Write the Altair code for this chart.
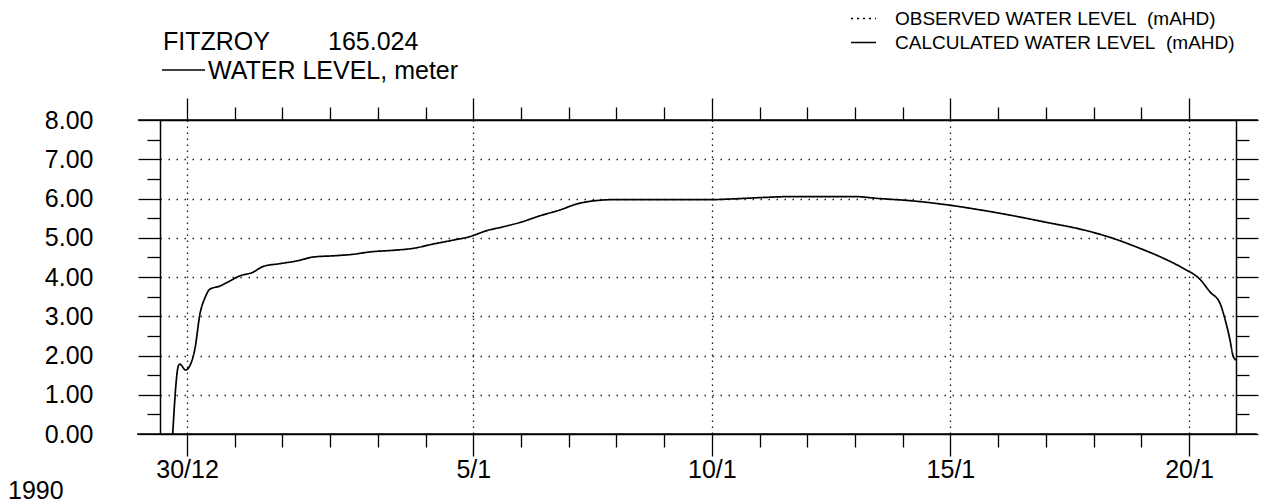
import altair as alt
import pandas as pd

# ---- data (days after 30/12/1989 00:00, water level in m) ----
day = [-0.30, -0.18, -0.15, -0.03, 0.06, 0.17, 0.27, 0.38, 0.48, 0.69, 0.90,
       1.11, 1.36, 1.60, 1.95, 2.30, 2.65, 3.07, 3.49, 3.84, 4.32, 4.74,
       5.16, 5.58, 5.93, 6.28, 6.63, 6.98, 7.40, 7.82, 8.17, 8.52, 8.94,
       10.00, 10.93, 11.45, 12.15, 12.71, 13.55, 13.97, 14.50, 15.20, 15.92,
       16.62, 17.32, 18.02, 18.72, 19.42, 19.97, 20.46, 20.88, 21.23, 21.44,
       21.65, 21.76, 21.86, 21.92, 21.985]
level = [0.00, 1.74, 1.78, 1.63, 1.74, 2.20, 3.05, 3.48, 3.69, 3.77, 3.90,
         4.03, 4.11, 4.27, 4.34, 4.41, 4.51, 4.54, 4.58, 4.64, 4.68, 4.73,
         4.84, 4.94, 5.03, 5.18, 5.28, 5.39, 5.56, 5.71, 5.86, 5.94, 5.97,
         5.97, 5.97, 5.99, 6.03, 6.05, 6.05, 6.05, 6.00, 5.94, 5.84,
         5.71, 5.56, 5.39, 5.22, 4.98, 4.73, 4.48, 4.22, 3.94, 3.62,
         3.33, 2.90, 2.39, 2.01, 1.88]

x_tick_days = list(range(0, 22))
x_label_days = [0, 6, 11, 16, 21]
x_label_text = ["30/12", "5/1", "10/1", "15/1", "20/1"]
y_tick_values = [i * 0.5 for i in range(17)]
series_names = ["OBSERVED WATER LEVEL\u00a0 (mAHD)", "CALCULATED WATER LEVEL\u00a0 (mAHD)"]
station = "FITZROY"
station_code = "165.024"
variable = "WATER LEVEL, meter"
year_label = "1990"

df = pd.DataFrame({"day": day, "level": level})
df["series"] = series_names[1]

W, H = 1076, 314
FONT = "Liberation Sans"
x_domain = [-0.566, 21.985]

label_map = "{" + ",".join(f"'{d}':'{t}'" for d, t in zip(x_label_days, x_label_text)) + "}"
major_test = "indexof(" + str(x_label_days) + ", datum.value) >= 0"

x_scale = alt.Scale(domain=x_domain, nice=False, zero=False)
y_scale = alt.Scale(domain=[0, 8], nice=False)

tick_x = {"condition": {"test": major_test, "value": 22}, "value": 13}
tick_y = {"condition": {"test": "datum.value % 1 === 0", "value": 22}, "value": 13}

axis_common = dict(domainColor="black", domainWidth=1.5, tickColor="black",
                   tickWidth=1.3, labelFont=FONT, labelColor="black", title=None)

x_bottom = alt.Axis(orient="bottom", values=x_tick_days, tickSize=tick_x,
                    labelExpr=f"{label_map}[datum.value] || ''", labelFontSize=25,
                    labelPadding=1, labelBaseline="top", labelFlush=False,
                    labelOverlap=False, grid=True, gridColor="black", gridWidth=1.3,
                    gridDash=[1.5, 4.5],
                    gridOpacity={"condition": {"test": major_test, "value": 0.9}, "value": 0},
                    **axis_common)
y_left = alt.Axis(orient="left", values=y_tick_values, tickSize=tick_y,
                  labelExpr="datum.value % 1 === 0 ? format(datum.value, '.2f') : ''",
                  labelFontSize=25, labelPadding=45, labelOverlap=False,
                  grid=True, gridColor="black", gridWidth=1.3, gridDash=[1.5, 6.5],
                  gridOpacity={"condition": {"test": "datum.value % 1 === 0 && datum.value > 0 && datum.value < 8",
                                             "value": 0.85}, "value": 0},
                  **axis_common)
x_top = alt.Axis(orient="top", values=x_tick_days, tickSize=tick_x, labels=False,
                 grid=False, **axis_common)
y_right = alt.Axis(orient="right", values=y_tick_values, tickSize=tick_y, labels=False,
                   grid=False, **axis_common)

line = alt.Chart(df).mark_line(color="black", strokeWidth=1.7, interpolate="monotone").encode(
    x=alt.X("day:Q", scale=x_scale, axis=x_bottom),
    y=alt.Y("level:Q", scale=y_scale, axis=y_left),
    strokeDash=alt.StrokeDash(
        "series:N",
        scale=alt.Scale(domain=series_names, range=[[2, 4], [1, 0]]),
        legend=alt.Legend(orient="none", legendX=690, legendY=-115, title=None,
                          symbolType="stroke", symbolSize=625, symbolStrokeWidth=1.3,
                          symbolStrokeColor="black", labelFont=FONT, labelFontSize=19,
                          labelColor="black", labelOffset=18, rowPadding=-1, padding=0,
                          labelLimit=500),
    ),
)

frame_axes = alt.Chart(df).mark_point(opacity=0).encode(
    x=alt.X("day:Q", scale=x_scale, axis=x_top),
    y=alt.Y("level:Q", scale=y_scale, axis=y_right),
)

one = pd.DataFrame({"k": [0]})
top_rule = alt.Chart(one).mark_rule(color="black", strokeWidth=1.5).encode(
    x=alt.value(-22), x2=alt.value(W + 22), y=alt.value(0))
bottom_rule = alt.Chart(one).mark_rule(color="black", strokeWidth=1.5).encode(
    x=alt.value(-23), x2=alt.value(W + 21), y=alt.value(H))
var_rule = alt.Chart(one).mark_rule(color="black", strokeWidth=1.3).encode(
    x=alt.value(2), x2=alt.value(45), y=alt.value(-50))


def label(text, x, y, size=25):
    return alt.Chart(pd.DataFrame({"t": [text]})).mark_text(
        font=FONT, fontSize=size, color="black", align="left", baseline="alphabetic"
    ).encode(text="t:N", x=alt.value(x), y=alt.value(y))


chart = alt.layer(
    line, frame_axes, top_rule, bottom_rule, var_rule,
    label(station, 3, -70), label(station_code, 168, -70),
    label(variable, 48, -41), label(year_label, -152, H + 65),
).resolve_axis(x="independent", y="independent").properties(
    width=W, height=H,
    autosize=alt.AutoSizeParams(type="none"),
    padding={"left": 160, "top": 120, "right": 28, "bottom": 69},
    background="white",
).configure_view(stroke=None)

chart.save("out.html", embed_options={"renderer": "svg", "actions": False})
